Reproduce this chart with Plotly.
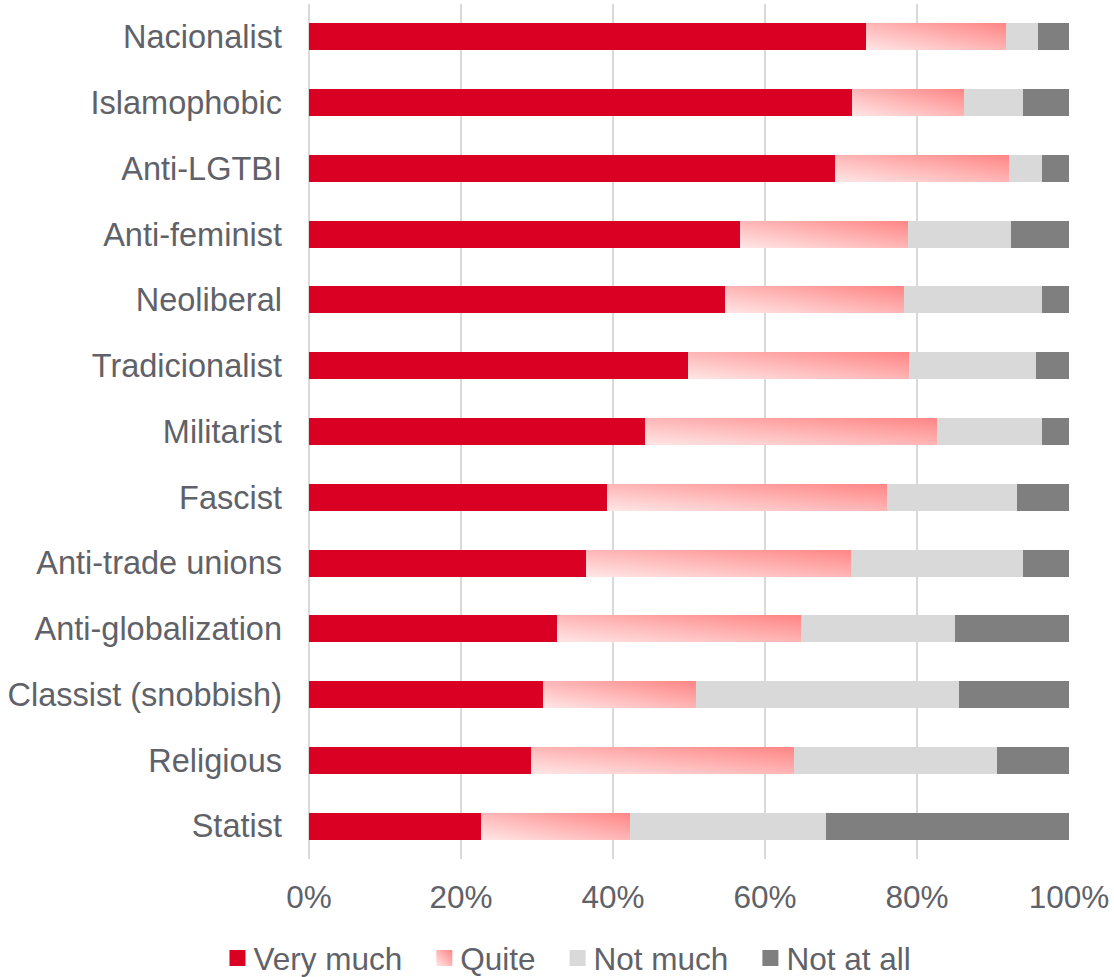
import plotly.graph_objects as go

categories = [
    "Nacionalist", "Islamophobic", "Anti-LGTBI", "Anti-feminist", "Neoliberal",
    "Tradicionalist", "Militarist", "Fascist", "Anti-trade unions",
    "Anti-globalization", "Classist (snobbish)", "Religious", "Statist",
]
very_much = [73.3, 71.4, 69.2, 56.7, 54.7, 49.9, 44.2, 39.2, 36.4, 32.6, 30.8, 29.2, 22.6]
quite = [18.4, 14.8, 22.9, 22.1, 23.6, 29.0, 38.4, 36.9, 34.9, 32.1, 20.1, 34.6, 19.6]
not_much = [4.2, 7.7, 4.3, 13.6, 18.1, 16.8, 13.8, 17.1, 22.6, 20.3, 34.6, 26.7, 25.8]
not_at_all = [4.1, 6.1, 3.6, 7.6, 3.6, 4.3, 3.6, 6.8, 6.1, 15.0, 14.5, 9.5, 32.0]

x_tickvals = [0, 20, 40, 60, 80, 100]
x_ticktext = ["0%", "20%", "40%", "60%", "80%", "100%"]

series = [
    ("Very much", very_much, "#DA0024"),
    ("Quite", quite, "#FFB8B8"),
    ("Not much", not_much, "#D9D9D9"),
    ("Not at all", not_at_all, "#7F7F7F"),
]

text_color = "#5F6268"
font_family = "Liberation Sans, Arial, sans-serif"
font_size = 31.5

fig = go.Figure()
for name, values, color in series:
    fig.add_trace(go.Bar(
        y=categories, x=values, name=name, orientation="h",
        marker=dict(color=color, line=dict(width=0)),
        hoverinfo="skip",
    ))

fig.update_layout(
    barmode="stack",
    bargap=0.59,
    width=1114, height=977,
    margin=dict(l=309, r=45, t=4, b=118, autoexpand=False),
    plot_bgcolor="white", paper_bgcolor="white",
    font=dict(family=font_family, size=font_size, color=text_color),
    showlegend=True,
    legend=dict(
        orientation="h", xref="container", yref="container",
        x=0.513, xanchor="center", y=0.0194, yanchor="middle",
        font=dict(size=font_size, color=text_color), traceorder="normal",
        itemwidth=30, bgcolor="rgba(0,0,0,0)",
    ),
    xaxis=dict(
        range=[0, 100], tickvals=x_tickvals, ticktext=x_ticktext,
        showgrid=True, gridcolor="#D9D9D9", gridwidth=2,
        zeroline=True, zerolinecolor="#D9D9D9", zerolinewidth=2,
        showline=False, ticklabelstandoff=16,
        tickfont=dict(size=font_size, color=text_color),
    ),
    yaxis=dict(
        categoryorder="array", categoryarray=categories, autorange="reversed",
        showgrid=False, zeroline=False, showline=False,
        ticklabelstandoff=26, tickfont=dict(size=32.5, color=text_color),
    ),
)

# Diagonal gradient fill for the "Quite" segments; larger, wider-spaced legend entries
post_js = """
var gd = document.getElementById('{plot_id}');
var ns = 'http://www.w3.org/2000/svg';
var svg = gd.querySelector('svg.main-svg');
var defs = document.createElementNS(ns, 'defs');
var grad = document.createElementNS(ns, 'linearGradient');
grad.setAttribute('id', 'quiteGrad');
grad.setAttribute('x1', '0'); grad.setAttribute('y1', '1');
grad.setAttribute('x2', '1'); grad.setAttribute('y2', '0');
[['0', '#FFE6E6'], ['1', '#FF8585']].forEach(function (s) {
  var st = document.createElementNS(ns, 'stop');
  st.setAttribute('offset', s[0]);
  st.setAttribute('stop-color', s[1]);
  grad.appendChild(st);
});
defs.appendChild(grad);
svg.insertBefore(defs, svg.firstChild);
var traces = gd.querySelectorAll('.barlayer .trace');
if (traces.length > 1) {
  traces[1].querySelectorAll('path').forEach(function (p) { p.style.fill = 'url(#quiteGrad)'; });
}
gd.querySelectorAll('.legend, .legend *').forEach(function (el) {
  if (el.hasAttribute('clip-path')) { el.removeAttribute('clip-path'); }
});
var leg = gd.querySelectorAll('.legend .traces');
leg.forEach(function (t, i) {
  t.querySelectorAll('.legendpoints path').forEach(function (p) {
    p.setAttribute('d', 'M12,8H-4V-8H12Z');
    if (i === 1) { p.style.fill = 'url(#quiteGrad)'; }
  });
  var tr = t.getAttribute('transform') || '';
  var m = tr.match(/translate\\(\\s*([-\\d.eE]+)[ ,]+([-\\d.eE]+)\\s*\\)/);
  if (m) {
    var nx = parseFloat(m[1]) + i * 13 - 26;
    t.setAttribute('transform', 'translate(' + nx + ',' + m[2] + ')');
  }
});
"""

fig.write_html("out.html", post_script=post_js)
